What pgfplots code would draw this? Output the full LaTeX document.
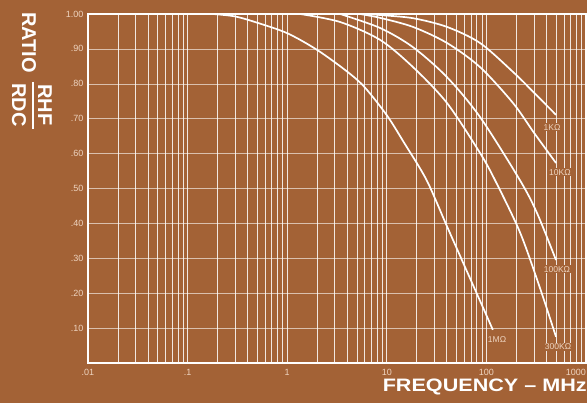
\documentclass[border=0pt]{standalone}
\usepackage{graphicx}
\usepackage{pgfplots}
\pgfplotsset{compat=1.18}
\usepackage{fontspec}
\setmainfont{Liberation Sans}
\definecolor{bg}{RGB}{163,98,54}
\definecolor{lbl}{RGB}{238,212,192}
\begin{document}
\begin{tikzpicture}
\fill[bg] (0,0) rectangle (587pt,403pt);
\useasboundingbox (0,0) rectangle (587pt,403pt);
\begin{axis}[
  at={(88pt,40pt)}, anchor=south west,
  scale only axis, width=498pt, height=349pt,
  xmode=log, log basis x=10,
  xmin=0.01, xmax=1000, ymin=0, ymax=1,
  xtick={0.01,0.1,1,10,100,1000},
  xticklabels={.01,.1,1,10,100,\makebox[0pt][r]{1000}},
  minor xtick={0.02,0.03,0.04,0.05,0.06,0.07,0.08,0.09,
               0.2,0.3,0.4,0.5,0.6,0.7,0.8,0.9,
               2,3,4,5,6,7,8,9,
               20,30,40,50,60,70,80,90,
               200,300,400,500,600,700,800,900},
  ytick={0.1,0.2,0.3,0.4,0.5,0.6,0.7,0.8,0.9,1.0},
  yticklabels={.10,.20,.30,.40,.50,.60,.70,.80,.90,1.00},
  major tick length=0pt, minor tick length=0pt,
  xmajorgrids=true, xminorgrids=true, ymajorgrids=true,
  x grid style={white, line width=0.6pt, opacity=0.85},
  y grid style={white, line width=0.5pt, opacity=0.6},
  axis line style={white, line width=1.3pt},
  tick label style={font=\fontsize{9}{9}\selectfont, text=lbl},
  xticklabel style={yshift=-3pt},
  yticklabel style={xshift=-1pt},
  clip=false,
]
% 1 MOhm
\addplot[white, line width=1.7pt, smooth, tension=0.5] coordinates {
(0.18,1.000) (0.3,0.993) (0.5,0.975) (1.0,0.945) (2.0,0.897) (4.0,0.835)
(6.0,0.790) (10,0.710) (15,0.630) (25,0.525) (40,0.393) (63,0.266)
(100,0.137) (116,0.095)};
% 300 kOhm
\addplot[white, line width=1.7pt, smooth, tension=0.5] coordinates {
(1.35,1.000) (3.4,0.977) (8.55,0.926) (18.3,0.848) (40.2,0.745) (86.2,0.602)
(122,0.524) (217,0.375) (345,0.215) (500,0.075)};
% 100 kOhm
\addplot[white, line width=1.7pt, smooth, tension=0.5] coordinates {
(3.4,1.000) (8.55,0.960) (18.3,0.905) (40.2,0.819) (86.2,0.705) (217,0.524)
(322,0.430) (500,0.295)};
% 10 kOhm
\addplot[white, line width=1.7pt, smooth, tension=0.5] coordinates {
(5.4,1.000) (8.55,0.989) (18.3,0.963) (40.2,0.917) (86.2,0.848) (185,0.745)
(300,0.660) (500,0.573)};
% 1 kOhm
\addplot[white, line width=1.7pt, smooth, tension=0.5] coordinates {
(6.8,1.000) (8.55,0.997) (18.3,0.988) (40.2,0.963) (86.2,0.917) (185,0.834)
(300,0.775) (500,0.711)};
\begin{scope}[every node/.style={fill=bg, inner sep=1pt, text=lbl, font=\fontsize{8.5}{8.5}\selectfont}]
\node at (axis cs:456,0.676) {1KΩ};
\node at (axis cs:548,0.547) {10KΩ};
\node at (axis cs:511,0.269) {100KΩ};
\node at (axis cs:524,0.046) {300KΩ};
\node at (axis cs:128,0.066) {1MΩ};
\end{scope}
\end{axis}
\node[anchor=base east, text=white, font=\bfseries\fontsize{18}{18}\selectfont, inner sep=0pt]
  at (587pt,11pt) {\scalebox{1.2}[1]{FREQUENCY -- MHz}};
\begin{scope}[every node/.style={rotate=-90, anchor=base west, text=white, inner sep=0pt, font=\bfseries\fontsize{20}{20}\selectfont}]
\node at (22pt,391pt) {RATIO};
\node at (38pt,319pt) {RHF};
\node at (12pt,320pt) {RDC};
\end{scope}
\draw[white, line width=1.6pt] (33pt,321pt) -- (33pt,274pt);
\end{tikzpicture}
\end{document}
